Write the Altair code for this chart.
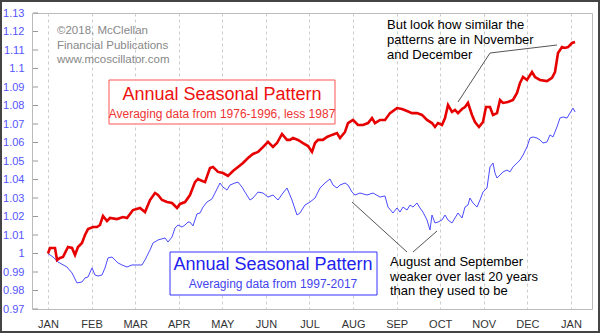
import altair as alt
import pandas as pd

# x positions in months since Jan 1 (0 = JAN, 12 = next JAN)
red_x = [0, 0.046, 0.161, 0.207, 0.275, 0.344, 0.459, 0.551, 0.62, 0.688, 0.78, 0.849, 0.918,
         1.033, 1.124, 1.193, 1.262, 1.354, 1.423, 1.583, 1.721, 1.813, 1.95, 2.111, 2.226,
         2.341, 2.455, 2.524, 2.616, 2.731, 2.846, 2.96, 3.029, 3.144, 3.258, 3.373, 3.442,
         3.488, 3.603, 3.717, 3.786, 3.901, 4.016, 4.13, 4.245, 4.36, 4.475, 4.589, 4.704,
         4.819, 4.911, 5.048, 5.163, 5.255, 5.369, 5.484, 5.553, 5.622, 5.737, 5.851, 5.966,
         6.058, 6.127, 6.196, 6.31, 6.402, 6.517, 6.631, 6.701, 6.815, 6.884, 6.999, 7.113,
         7.228, 7.343, 7.435, 7.503, 7.618, 7.733, 7.848, 8.008, 8.123, 8.238, 8.352, 8.467,
         8.582, 8.697, 8.811, 8.88, 8.949, 9.041, 9.11, 9.179, 9.27, 9.339, 9.408, 9.5, 9.569,
         9.637, 9.729, 9.798, 9.89, 9.982, 10.05, 10.142, 10.211, 10.303, 10.372, 10.441,
         10.555, 10.67, 10.762, 10.831, 10.9, 10.991, 11.106, 11.175, 11.29, 11.45, 11.565,
         11.634, 11.703, 11.795, 11.864, 11.933, 12.025, 12.094]
red_y = [1.000, 1.003, 1.003, 0.9965, 0.9976, 0.9981, 1.0035, 1.003, 0.9992, 1.0035, 1.0057,
         1.01, 1.0132, 1.0143, 1.0143, 1.0154, 1.0203, 1.0176, 1.0192, 1.0186, 1.0197, 1.0192,
         1.0235, 1.0246, 1.0224, 1.0289, 1.0327, 1.0316, 1.0289, 1.0278, 1.0273, 1.0246,
         1.0268, 1.0278, 1.0316, 1.0386, 1.0403, 1.0397, 1.0386, 1.0462, 1.0468, 1.0441,
         1.0435, 1.0419, 1.0446, 1.0468, 1.0489, 1.0516, 1.0538, 1.0549, 1.057, 1.0603,
         1.0576, 1.0597, 1.0646, 1.0614, 1.0614, 1.0624, 1.0614, 1.0597, 1.0581, 1.0549,
         1.0597, 1.0614, 1.0614, 1.063, 1.0641, 1.0651, 1.0624, 1.0657, 1.0705, 1.0722,
         1.0695, 1.0695, 1.0705, 1.0732, 1.0705, 1.0722, 1.0722, 1.0759, 1.0786, 1.0781,
         1.077, 1.0759, 1.0759, 1.0749, 1.0722, 1.0705, 1.0684, 1.0705, 1.0695, 1.0732,
         1.0803, 1.0765, 1.0776, 1.0759, 1.0781, 1.0792, 1.0814, 1.0749, 1.0711, 1.0684,
         1.0711, 1.0792, 1.0792, 1.0749, 1.0759, 1.083, 1.0814, 1.0819, 1.083, 1.0868,
         1.0922, 1.0954, 1.0938, 1.0981, 1.0954, 1.0938, 1.0932, 1.0949, 1.0981, 1.1084,
         1.1116, 1.1111, 1.1116, 1.1138, 1.1143]

blue_x = [0, 0.115, 0.229, 0.436, 0.551, 0.665, 0.78, 0.849, 0.918, 1.01, 1.078, 1.147, 1.239,
          1.308, 1.377, 1.469, 1.537, 1.606, 1.698, 1.813, 1.927, 2.042, 2.157, 2.226, 2.341,
          2.41, 2.524, 2.685, 2.754, 2.846, 2.914, 2.983, 3.075, 3.144, 3.212, 3.258, 3.327,
          3.419, 3.488, 3.557, 3.648, 3.763, 3.832, 3.947, 4.016, 4.107, 4.176, 4.291, 4.36,
          4.452, 4.52, 4.635, 4.704, 4.819, 4.933, 5.048, 5.163, 5.278, 5.392, 5.484, 5.599,
          5.714, 5.782, 5.897, 6.012, 6.127, 6.241, 6.356, 6.471, 6.54, 6.631, 6.7, 6.815,
          6.884, 6.976, 7.045, 7.159, 7.32, 7.458, 7.618, 7.733, 7.802, 7.916, 8.008, 8.077,
          8.146, 8.238, 8.307, 8.375, 8.467, 8.536, 8.605, 8.697, 8.766, 8.811, 8.88, 8.949,
          9.041, 9.11, 9.179, 9.27, 9.339, 9.408, 9.5, 9.569, 9.637, 9.683, 9.752, 9.844,
          9.913, 9.982, 10.073, 10.142, 10.211, 10.257, 10.303, 10.372, 10.441, 10.533,
          10.601, 10.67, 10.762, 10.831, 10.9, 10.991, 11.06, 11.129, 11.221, 11.29, 11.358,
          11.45, 11.519, 11.588, 11.679, 11.748, 11.817, 11.909, 11.978, 12.047, 12.094]
blue_y = [1.000, 0.9981, 0.9954, 0.9927, 0.9895, 0.9841, 0.9846, 0.9868, 0.9873, 0.9922,
          0.9884, 0.9878, 0.9884, 0.9922, 0.9976, 0.9981, 0.9965, 0.9949, 0.9938, 0.9927,
          0.9938, 0.9938, 0.9938, 0.9965, 1.0019, 1.0057, 1.0073, 1.0084, 1.0062, 1.0089,
          1.0138, 1.0154, 1.0143, 1.0154, 1.017, 1.017, 1.0149, 1.0214, 1.0219, 1.0251,
          1.0278, 1.0295, 1.0327, 1.0381, 1.0359, 1.0343, 1.037, 1.0381, 1.0386, 1.0359,
          1.0332, 1.0289, 1.03, 1.0332, 1.0327, 1.0305, 1.0316, 1.0289, 1.0327, 1.0354,
          1.0289, 1.0208, 1.0219, 1.0262, 1.0278, 1.03, 1.0354, 1.0381, 1.0403, 1.037,
          1.0354, 1.037, 1.0381, 1.037, 1.0332, 1.0316, 1.0327, 1.0316, 1.0327, 1.0305,
          1.0311, 1.0251, 1.0219, 1.0246, 1.0224, 1.0251, 1.0235, 1.0262, 1.0251, 1.0273,
          1.0246, 1.0224, 1.0181, 1.0127, 1.0208, 1.0165, 1.017, 1.0181, 1.0208, 1.0181,
          1.0165, 1.0192, 1.0219, 1.0192, 1.0251, 1.0262, 1.03, 1.0273, 1.0251, 1.0289,
          1.0332, 1.0354, 1.0468, 1.0489, 1.0435, 1.0408, 1.0424, 1.0441, 1.0451, 1.0441,
          1.0468, 1.0489, 1.0505, 1.0532, 1.0576, 1.0624, 1.063, 1.0624, 1.0614, 1.0597,
          1.0603, 1.0641, 1.063, 1.0684, 1.0732, 1.0738, 1.0732, 1.0759, 1.0786, 1.0765]

month_ticks = [0, 1, 2, 3, 4, 5, 6, 7, 8, 9, 10, 11, 12]
month_labels = ["JAN", "FEB", "MAR", "APR", "MAY", "JUN", "JUL", "AUG", "SEP", "OCT", "NOV", "DEC", "JAN"]
y_ticks = [0.97, 0.98, 0.99, 1.0, 1.01, 1.02, 1.03, 1.04, 1.05, 1.06, 1.07, 1.08, 1.09,
           1.1, 1.11, 1.12, 1.13]

red_df = pd.DataFrame({"m": red_x, "v": red_y})
blue_df = pd.DataFrame({"m": blue_x, "v": blue_y})
tick_df = pd.DataFrame({"v": y_ticks})

FONT = "Liberation Sans"
label_expr = "[" + ",".join("'%s'" % s for s in month_labels) + "][datum.value]"

xs = alt.Scale(domain=[-0.367, 12.483], nice=False, zero=False)
ys = alt.Scale(domain=[0.97, 1.13], nice=False, zero=False)

x_axis = alt.Axis(values=month_ticks, labelExpr=label_expr, title=None, ticks=False,
                  domain=False, grid=True, gridColor="#cccccc", gridDash=[3, 3],
                  labelPadding=9, labelFontSize=11, labelColor="#333333", labelFont=FONT,
                  labelFlush=False, labelOverlap=False)
y_axis = alt.Axis(values=y_ticks, format="~g", title=None, ticks=False, domain=False,
                  grid=False, labelPadding=8, labelFontSize=11, labelColor="#5555ff",
                  labelFont=FONT, labelFlush=False, labelOverlap=False)

blue_line = alt.Chart(blue_df).mark_line(color="#4a4aff", strokeWidth=1).encode(
    x=alt.X("m:Q", scale=xs, axis=x_axis),
    y=alt.Y("v:Q", scale=ys, axis=y_axis),
)
red_line = alt.Chart(red_df).mark_line(color="#e60000", strokeWidth=2.6).encode(
    x=alt.X("m:Q", scale=xs, axis=x_axis),
    y=alt.Y("v:Q", scale=ys, axis=y_axis),
)

yticks_marks = alt.Chart(tick_df).mark_rule(color="#999999", strokeWidth=1).encode(
    y=alt.Y("v:Q", scale=ys, axis=y_axis), x=alt.value(1), x2=alt.value(6)
)


def txt(lines, x, y, size, color, align="left", lh=15):
    return alt.Chart(tick_df.head(1)).mark_text(
        text=lines, align=align, baseline="middle", fontSize=size, color=color, font=FONT,
        lineHeight=lh
    ).encode(x=alt.value(x), y=alt.value(y))


def box(x, y, x2, y2, stroke):
    return alt.Chart(tick_df.head(1)).mark_rect(fill="white", stroke=stroke, strokeWidth=1).encode(
        x=alt.value(x), y=alt.value(y), x2=alt.value(x2), y2=alt.value(y2))


def seg(x, y, x2, y2):
    return alt.Chart(tick_df.head(1)).mark_rule(color="#555555", strokeWidth=1).encode(
        x=alt.value(x), y=alt.value(y), x2=alt.value(x2), y2=alt.value(y2))


layers = [
    blue_line,
    red_line,
    yticks_marks,
    box(77, 67, 303, 111, "#ff5555"),
    txt("Annual Seasonal Pattern", 190, 82, 18, "#ee1111", "center"),
    txt("Averaging data from 1976-1996, less 1987", 190, 101, 12, "#ee3333", "center"),
    box(138, 239, 345, 282, "#3333ff"),
    txt("Annual Seasonal Pattern", 241, 252, 18, "#2222ee", "center"),
    txt("Averaging data from 1997-2017", 241, 271, 12, "#4444ee", "center"),
    txt(["\u00a92018, McClellan", "Financial Publications", "www.mcoscillator.com"], 25, 18, 11.5,
        "#888888", "left", 14.5),
    txt(["But look how similar the", "patterns are in November", "and December"], 355, 12, 13,
        "#000000", "left", 15),
    txt(["August and September", "weaker over last 20 years", "than they used to be"], 358, 249, 13,
        "#000000", "left", 14.5),
    seg(426, 89, 458, 40),
    seg(458, 40, 525, 32),
    seg(320, 189, 375, 239),
    seg(381, 239, 405, 218),
    alt.Chart(tick_df.head(1)).mark_rect(fill=None, stroke="#444444", strokeWidth=2).encode(
        x=alt.value(-31), y=alt.value(-12), x2=alt.value(567), y2=alt.value(319)),
]

chart = alt.layer(*layers).properties(
    width=560, height=296,
    padding={"left": 32, "top": 13, "right": 8, "bottom": 24},
    autosize=alt.AutoSizeParams(type="none"),
    background="white",
).configure_view(stroke="#bbbbbb", strokeWidth=1)

chart.save("out.html", embed_options={"renderer": "svg", "actions": False})
